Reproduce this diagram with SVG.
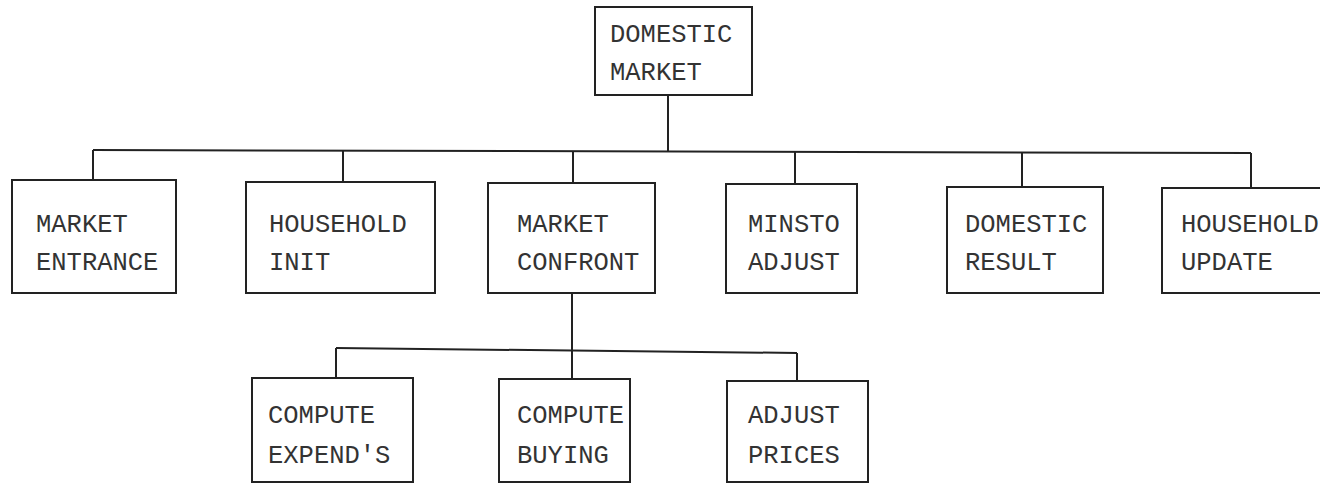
<svg xmlns="http://www.w3.org/2000/svg" width="1320" height="484" viewBox="0 0 1320 484">
<style>
.box{fill:#fff;stroke:#222;stroke-width:2}
.ln{fill:none;stroke:#222;stroke-width:2}
.t{font-family:"Liberation Mono","Courier New",monospace;font-size:25.5px;fill:#333}
</style>
<rect width="1320" height="484" fill="#fff"/>
<g id="connectors">
<path class="ln" d="M668,95 V151"/>
<path class="ln" d="M93,150 L1251,153"/>
<path class="ln" d="M93,150 V180"/>
<path class="ln" d="M343,150 V182"/>
<path class="ln" d="M573,151 V183"/>
<path class="ln" d="M795,152 V184"/>
<path class="ln" d="M1022,152 V187"/>
<path class="ln" d="M1251,153 V188"/>
<path class="ln" d="M572,293 V349"/>
<path class="ln" d="M336,348 L797,353"/>
<path class="ln" d="M336,348 V378"/>
<path class="ln" d="M572,349 V379"/>
<path class="ln" d="M797,353 V381"/>
</g>
<g id="domestic-market">
<rect class="box" x="595" y="7" width="157" height="88"/>
<text class="t" x="610" y="42">DOMESTIC</text>
<text class="t" x="610" y="80">MARKET</text>
</g>
<g id="market-entrance">
<rect class="box" x="12" y="180" width="164" height="113"/>
<text class="t" x="36" y="232">MARKET</text>
<text class="t" x="36" y="270">ENTRANCE</text>
</g>
<g id="household-init">
<rect class="box" x="246" y="182" width="189" height="111"/>
<text class="t" x="269" y="232">HOUSEHOLD</text>
<text class="t" x="269" y="270">INIT</text>
</g>
<g id="market-confront">
<rect class="box" x="488" y="183" width="167" height="110"/>
<text class="t" x="517" y="232">MARKET</text>
<text class="t" x="517" y="270">CONFRONT</text>
</g>
<g id="minsto-adjust">
<rect class="box" x="726" y="184" width="131" height="109"/>
<text class="t" x="748" y="232">MINSTO</text>
<text class="t" x="748" y="270">ADJUST</text>
</g>
<g id="domestic-result">
<rect class="box" x="947" y="187" width="156" height="106"/>
<text class="t" x="965" y="232">DOMESTIC</text>
<text class="t" x="965" y="270">RESULT</text>
</g>
<g id="household-update">
<rect class="box" x="1162" y="188" width="165" height="105"/>
<text class="t" x="1181" y="232">HOUSEHOLD</text>
<text class="t" x="1181" y="270">UPDATE</text>
</g>
<g id="compute-expends">
<rect class="box" x="252" y="378" width="161" height="104"/>
<text class="t" x="268" y="423">COMPUTE</text>
<text class="t" x="268" y="463">EXPEND'S</text>
</g>
<g id="compute-buying">
<rect class="box" x="499" y="379" width="131" height="103"/>
<text class="t" x="517" y="423">COMPUTE</text>
<text class="t" x="517" y="463">BUYING</text>
</g>
<g id="adjust-prices">
<rect class="box" x="727" y="381" width="141" height="101"/>
<text class="t" x="748" y="423">ADJUST</text>
<text class="t" x="748" y="463">PRICES</text>
</g>
</svg>
